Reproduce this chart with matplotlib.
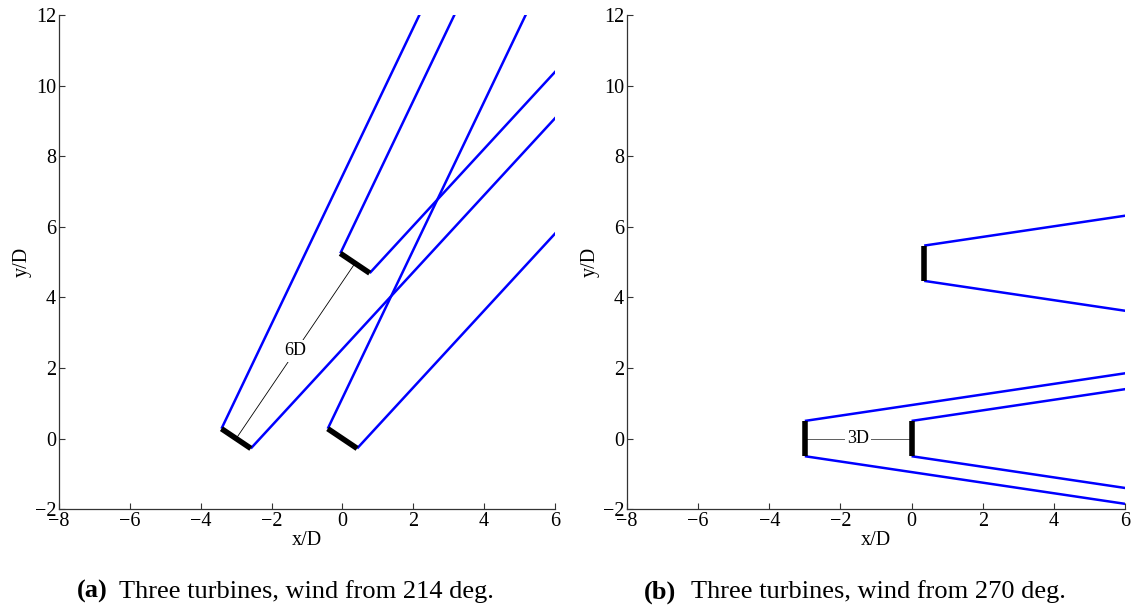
import matplotlib.pyplot as plt
import numpy as np

plt.rcParams['font.family'] = ['Liberation Serif', 'DejaVu Serif']

# turbine centres (x/D, y/D)
turb_x = [-3.0, 0.0, 0.355]
turb_y = [0.0, 0.0, 4.97]
wind_dirs = [214, 270]      # deg, meteorological (wind from)
k_wake = 0.15               # linear wake spreading
rotor_D = 1.0
captions = ["Three turbines, wind from 214 deg.", "Three turbines, wind from 270 deg."]
tags = ["(a)", "(b)"]
dist_pairs = [(0, 2, "6D"), (0, 1, "3D")]

fig = plt.figure(figsize=(11.35, 6.09), dpi=100)
axpos = [[0.052, 0.164, 0.437, 0.811], [0.5524, 0.164, 0.4388, 0.811]]
cap_x = [(77, 119), (644, 691)]   # pixel x of tag / caption text

for i, wd in enumerate(wind_dirs):
    ax = fig.add_axes(axpos[i])
    th = np.deg2rad(wd + 180)   # direction the wind blows towards
    d = np.array([np.sin(th), np.cos(th)])
    p = np.array([-d[1], d[0]])
    s = np.array([0, 30.0])
    for x0, y0 in zip(turb_x, turb_y):
        c = np.array([x0, y0])
        for sgn in (1, -1):
            w = rotor_D / 2 + k_wake * s
            pts = c[:, None] + d[:, None] * s + sgn * p[:, None] * w
            ax.plot(pts[0], pts[1], color='#0000ff', lw=1.8, solid_capstyle='butt')
        r = np.array([c + p * rotor_D / 2, c - p * rotor_D / 2])
        ax.plot(r[:, 0], r[:, 1], color='black', lw=4, solid_capstyle='butt', zorder=5)

    a, b, lab = dist_pairs[i]
    ax.plot([turb_x[a], turb_x[b]], [turb_y[a], turb_y[b]], color='black' if i == 0 else '#444444',
            lw=0.6, zorder=3)
    ax.text((turb_x[a] + turb_x[b]) / 2, (turb_y[a] + turb_y[b]) / 2, lab, fontsize=13,
            ha='center', va='center', zorder=4,
            bbox=dict(facecolor='white', edgecolor='none', pad=1.5))

    ax.set_xlim(-8, 6)
    ax.set_ylim(-2, 12)
    ax.set_xticks(np.arange(-8, 7, 2))
    ax.set_yticks(np.arange(-2, 13, 2))
    ax.spines['top'].set_visible(False)
    ax.spines['right'].set_visible(False)
    for sp in ['left', 'bottom']:
        ax.spines[sp].set_color('#333333')
        ax.spines[sp].set_linewidth(0.9)
    ax.tick_params(direction='in', length=4, width=0.8, labelsize=14.5, color='#333333', pad=2)
    ax.set_xlabel('x/D', fontsize=14.5, labelpad=0)
    ax.set_ylabel('y/D', fontsize=14.5, labelpad=2)
    fig.text(cap_x[i][0] / 1135, 0.028, tags[i], fontsize=19, fontweight='bold', ha='left', va='center')
    fig.text(cap_x[i][1] / 1135, 0.028, captions[i], fontsize=19, ha='left', va='center')

fig.savefig('out.png', dpi=100)
